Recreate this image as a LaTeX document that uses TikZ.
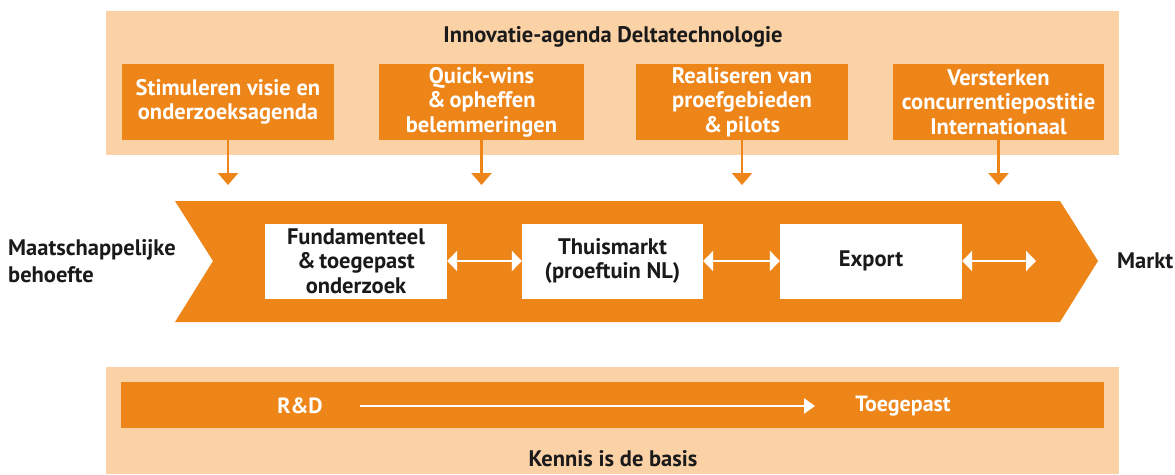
\documentclass[tikz,border=0pt]{standalone}
\usepackage{fontspec}
\setmainfont{PT Sans}
\usetikzlibrary{arrows.meta}
\definecolor{orng}{HTML}{EE8519}
\definecolor{peach}{HTML}{FBD1A6}
\definecolor{txt}{HTML}{1A1A1A}
\tikzset{
  topbox/.style={fill=orng, text=white, minimum height=76pt, align=center, inner sep=0pt, font=\fontsize{22.5}{24.5}\selectfont\bfseries},
  whitebox/.style={fill=white, text=txt, minimum height=75pt, minimum width=182pt, align=center, inner sep=0pt, font=\fontsize{22.5}{24.5}\selectfont\bfseries},
  lbl/.style={text=txt, font=\fontsize{22.5}{27}\selectfont\bfseries, inner sep=0pt},
  bartext/.style={text=white, font=\fontsize{22}{24}\selectfont\bfseries, inner sep=0pt},
  downarrow/.style={draw=orng, line width=2.4pt, -{Triangle[width=20pt,length=12pt]}},
  dblarrow/.style={draw=white, line width=2.8pt, {Triangle[width=20pt,length=10pt]}-{Triangle[width=20pt,length=10pt]}},
}
\begin{document}
\begin{tikzpicture}[x=1pt,y=-1pt]
\useasboundingbox (0,0) rectangle (1175,474);
% top band
\fill[peach] (106,11) rectangle (1119,155);
\node[lbl] (title) at (613,37) {Innovatie-agenda Deltatechnologie};
\node[topbox, minimum width=212pt] (s1) at (228,102) {Stimuleren visie en\\onderzoeksagenda};
\node[topbox, minimum width=205pt] (s2) at (481.5,102) {Quick-wins\\\&\,opheffen\\belemmeringen};
\node[topbox, minimum width=212pt] (s3) at (742,102) {Realiseren van\\proefgebieden\\\&\,pilots};
\node[topbox, minimum width=211pt] (s4) at (998.5,102) {Versterken\\concurrentiepostitie\\Internationaal};
\coordinate (t1) at (228,185);
\coordinate (t2) at (481.5,185);
\coordinate (t3) at (742,185);
\coordinate (t4) at (998.5,185);
\draw[downarrow] (s1.south) -- (t1);
\draw[downarrow] (s2.south) -- (t2);
\draw[downarrow] (s3.south) -- (t3);
\draw[downarrow] (s4.south) -- (t4);
% chevron
\fill[orng] (175,201) -- (1060,201) -- (1098,261) -- (1060,322) -- (175,322) -- (213,261) -- cycle;
\node[whitebox] (w1) at (356,261) {Fundamenteel\\\&\,toegepast\\onderzoek};
\node[whitebox, minimum width=181pt] (w2) at (612.5,261) {Thuismarkt\\(proeftuin NL)};
\node[whitebox] (w3) at (871,261) {Export};
\coordinate (e3) at (1036,261);
\draw[dblarrow] (w1.east) -- (w2.west);
\draw[dblarrow] (w2.east) -- (w3.west);
\draw[dblarrow] (w3.east) -- (e3);
\node[lbl, anchor=west, align=left] (left) at (8,261) {Maatschappelijke\\behoefte};
\node[lbl, anchor=west] (markt) at (1117,261) {Markt};
% bottom band
\fill[peach] (106,367) rectangle (1119,474);
\fill[orng] (121,382) rectangle (1104,428);
\node[bartext] (rd) at (300,406) {R\&D};
\node[bartext] (toe) at (903,406) {Toegepast};
\coordinate (a0) at (360,406);
\coordinate (a1) at (815,406);
\draw[white, line width=2.4pt, -{Triangle[width=15pt,length=11pt]}] (a0) -- (a1);
\node[lbl] (kennis) at (613,459) {Kennis is de basis};
\end{tikzpicture}
\end{document}
